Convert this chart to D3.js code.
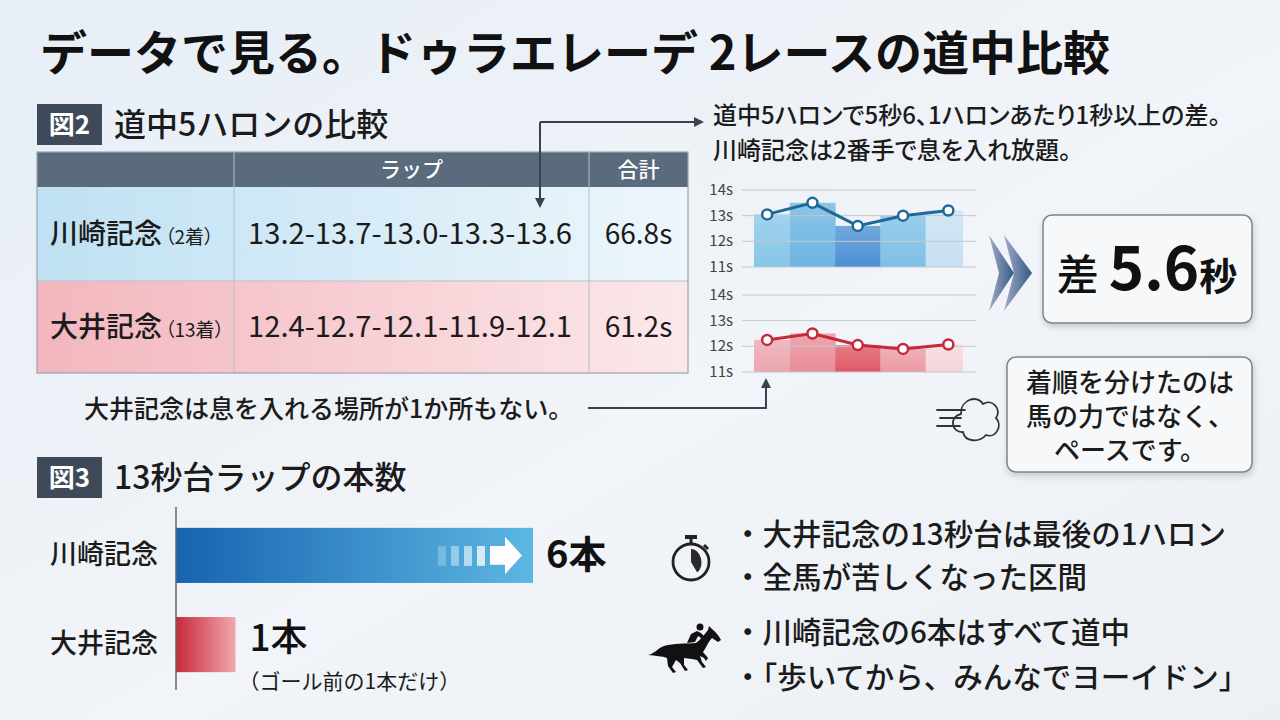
<!DOCTYPE html>
<html lang="ja">
<head>
<meta charset="UTF-8">
<title>ドゥラエレーデ 2レースの道中比較</title>
<script src="https://d3js.org/d3.v7.min.js"></script>
<style>
  body, html { margin: 0; padding: 0; }
  svg { display: block; font-family: "Noto Sans CJK JP", "Noto Sans", sans-serif; }
</style>
</head>
<body>
<div id="chart"></div>
<script>
// ---- data ----
const races = ["川崎記念", "大井記念"];
const finishes = ["2着", "13着"];
const kawasakiLaps = [13.2, 13.7, 13.0, 13.3, 13.6];
const ooiLaps = [12.4, 12.7, 12.1, 11.9, 12.1];
const totals = ["66.8s", "61.2s"];
const tableHeaders = ["", "ラップ", "合計"];

// mini line chart (values as plotted in the picture)
const chartTicks = [11, 12, 13, 14];
const kawasakiPlot = [13.05, 13.5, 12.6, 13.0, 13.2];
const ooiPlot = [12.25, 12.5, 12.05, 11.9, 12.07];

// 13秒台ラップの本数
const count13 = [6, 1];
const countUnit = "本";

const title = "データで見る。ドゥラエレーデ 2レースの道中比較";
const fig2Title = "道中5ハロンの比較";
const fig3Title = "13秒台ラップの本数";
const noteTop = ["道中5ハロンで5秒6、1ハロンあたり1秒以上の差。", "川崎記念は2番手で息を入れ放題。"];
const noteBottom = "大井記念は息を入れる場所が1か所もない。";
const diffLabel = ["差", "5.6", "秒"];
const conclusion = ["着順を分けたのは", "馬の力ではなく、", "ペースです。"];
const bulletsA = ["・大井記念の13秒台は最後の1ハロン", "・全馬が苦しくなった区間"];
const bulletsB = ["・川崎記念の6本はすべて道中", "・「歩いてから、みんなでヨーイドン」"];

const W = 1280, H = 720;
const ink = "#1b1b1b";
const slate = "#3e4a5a";

const svg = d3.select("#chart").append("svg")
  .attr("width", W).attr("height", H);

const defs = svg.append("defs");

function linGrad(id, stops, x2 = "100%", y2 = "0%") {
  const g = defs.append("linearGradient").attr("id", id)
    .attr("x1", "0%").attr("y1", "0%").attr("x2", x2).attr("y2", y2);
  stops.forEach(s => g.append("stop").attr("offset", s[0]).attr("stop-color", s[1]).attr("stop-opacity", s[2] == null ? 1 : s[2]));
}
linGrad("bg", [["0%", "#e7eef6"], ["55%", "#f1f4f8"], ["100%", "#eceff4"]], "100%", "100%");
linGrad("rowBlue", [["0%", "#bfe1f3"], ["100%", "#eef6fb"]]);
linGrad("rowRed", [["0%", "#f3b6be"], ["100%", "#fbe8ea"]]);
linGrad("barBlue", [["0%", "#1763b0"], ["100%", "#5cb7e2"]]);
linGrad("barRed", [["0%", "#c72a3b"], ["100%", "#f1a7af"]]);
linGrad("chev", [["0%", "#a7a9c8"], ["100%", "#2f5b82"]]);
linGrad("sheen", [["0%", "#ffffff", 0.22], ["100%", "#ffffff", 0]], "0%", "100%");

const shadow = defs.append("filter").attr("id", "shadow")
  .attr("x", "-10%").attr("y", "-10%").attr("width", "130%").attr("height", "140%");
shadow.append("feDropShadow").attr("dx", 1).attr("dy", 3).attr("stdDeviation", 3)
  .attr("flood-color", "#000").attr("flood-opacity", 0.18);

defs.append("marker").attr("id", "arrow").attr("viewBox", "0 0 10 10")
  .attr("refX", 8).attr("refY", 5).attr("markerWidth", 5).attr("markerHeight", 5)
  .attr("orient", "auto")
  .append("path").attr("d", "M0,0 L10,5 L0,10 Z").attr("fill", "#3a424d");

svg.append("rect").attr("width", W).attr("height", H).attr("fill", "url(#bg)");

// ---- title ----
svg.append("text").attr("x", 40).attr("y", 70)
  .attr("font-size", 47).attr("font-weight", 700).attr("fill", "#111")
  .text(title);

// section label helper
function sectionLabel(y, num, label) {
  svg.append("rect").attr("x", 37).attr("y", y).attr("width", 65).attr("height", 41).attr("fill", slate);
  svg.append("text").attr("x", 69.5).attr("y", y + 30).attr("text-anchor", "middle")
    .attr("font-size", 26).attr("font-weight", 700).attr("fill", "#fff").text(num);
  svg.append("text").attr("x", 114).attr("y", y + 32)
    .attr("font-size", 32).attr("font-weight", 500).attr("fill", ink).text(label);
}
sectionLabel(104, "図2", fig2Title);
sectionLabel(457, "図3", fig3Title);

// ---- table ----
const colX = [37, 234, 589, 688];
const rowY = [152, 187, 281, 373];
const tbl = svg.append("g");
tbl.append("rect").attr("x", colX[0]).attr("y", rowY[0]).attr("width", colX[3] - colX[0]).attr("height", rowY[1] - rowY[0]).attr("fill", "#5b6b7e");
tableHeaders.forEach((h, i) => {
  tbl.append("text").attr("x", (colX[i] + colX[i + 1]) / 2).attr("y", rowY[0] + 25)
    .attr("text-anchor", "middle").attr("font-size", 21).attr("font-weight", 500)
    .attr("fill", "#fff").text(h);
});
const lapRows = [kawasakiLaps, ooiLaps];
races.forEach((r, i) => {
  const y0 = rowY[i + 1], y1 = rowY[i + 2], cy = (y0 + y1) / 2 + 10;
  tbl.append("rect").attr("x", colX[0]).attr("y", y0).attr("width", colX[3] - colX[0]).attr("height", y1 - y0)
    .attr("fill", i === 0 ? "url(#rowBlue)" : "url(#rowRed)");
  const t = tbl.append("text").attr("x", 50).attr("y", cy).attr("fill", ink);
  t.append("tspan").attr("font-size", 28).attr("font-weight", 500).text(r);
  t.append("tspan").attr("font-size", 19).attr("dx", 3).style("font-feature-settings", "'palt'")
    .text("（" + finishes[i] + "）");
  tbl.append("text").attr("x", 248).attr("y", cy).attr("font-size", 29).attr("fill", ink)
    .attr("textLength", 324).attr("lengthAdjust", "spacingAndGlyphs")
    .text(lapRows[i].map(v => v.toFixed(1)).join("-"));
  tbl.append("text").attr("x", (colX[2] + colX[3]) / 2).attr("y", cy).attr("text-anchor", "middle")
    .attr("font-size", 28).attr("fill", ink).text(totals[i]);
});
// grid lines
[colX[1], colX[2]].forEach(x => tbl.append("line").attr("x1", x).attr("x2", x)
  .attr("y1", rowY[0]).attr("y2", rowY[3]).attr("stroke", "#b9c0c8").attr("stroke-width", 1));
tbl.append("line").attr("x1", colX[0]).attr("x2", colX[3]).attr("y1", rowY[2]).attr("y2", rowY[2])
  .attr("stroke", "#b9c0c8");
tbl.append("rect").attr("x", colX[0]).attr("y", rowY[0]).attr("width", colX[3] - colX[0]).attr("height", rowY[3] - rowY[0])
  .attr("fill", "none").attr("stroke", "#99a2ad").attr("stroke-width", 1.2);

// ---- connectors ----
svg.append("path").attr("d", "M540,122 L540,206").attr("stroke", "#3a424d").attr("stroke-width", 2)
  .attr("fill", "none").attr("marker-end", "url(#arrow)");
svg.append("path").attr("d", "M540,122 L702,122").attr("stroke", "#3a424d").attr("stroke-width", 2)
  .attr("fill", "none").attr("marker-end", "url(#arrow)");
svg.append("path").attr("d", "M588,408 L766,408 L766,380").attr("stroke", "#3a424d").attr("stroke-width", 2)
  .attr("fill", "none").attr("marker-end", "url(#arrow)");

noteTop.forEach((s, i) => {
  svg.append("text").attr("x", 713).attr("y", 124 + i * 35).attr("font-size", 24)
    .attr("font-weight", 500).style("font-feature-settings", "'palt'")
    .attr("fill", ink).text(s);
});
svg.append("text").attr("x", 84).attr("y", 418).attr("font-size", 25)
  .attr("font-weight", 500).attr("fill", ink).text(noteBottom);

// ---- mini line charts ----
const xb = d3.scaleBand().domain(d3.range(5)).range([744.5, 971]).padding(0);
defs.append("clipPath").attr("id", "barClip").append("rect")
  .attr("x", 754).attr("y", 150).attr("width", 209).attr("height", 240);

function miniChart(yTop, yBottom, values, barColors, lineColor) {
  const y = d3.scaleLinear().domain([11, 14]).range([yBottom, yTop]);
  const g = svg.append("g");
  const bg = g.append("g").attr("clip-path", "url(#barClip)");
  bg.selectAll("rect.b").data(values).join("rect").attr("class", "b")
    .attr("x", (d, i) => xb(i)).attr("width", xb.bandwidth() + 0.5)
    .attr("y", d => y(d)).attr("height", d => y(11) - y(d))
    .attr("fill", (d, i) => barColors[i]);
  bg.selectAll("rect.s").data(values).join("rect").attr("class", "s")
    .attr("x", (d, i) => xb(i)).attr("width", xb.bandwidth() + 0.5)
    .attr("y", d => y(d)).attr("height", d => y(11) - y(d))
    .attr("fill", "url(#sheen)");
  g.selectAll(".grid").data(chartTicks).join("line")
    .attr("x1", 742).attr("x2", 976).attr("y1", d => y(d)).attr("y2", d => y(d))
    .attr("stroke", "#c3c8cf").attr("stroke-width", 1);
  g.selectAll(".tl").data(chartTicks).join("text")
    .attr("x", 733).attr("y", d => y(d) + 5).attr("text-anchor", "end")
    .attr("font-size", 15).attr("fill", "#444").text(d => d + "s");
  const line = d3.line().x((d, i) => xb(i) + xb.bandwidth() / 2).y(d => y(d));
  g.append("path").datum(values).attr("d", line).attr("fill", "none")
    .attr("stroke", lineColor).attr("stroke-width", 3);
  g.selectAll("circle").data(values).join("circle")
    .attr("cx", (d, i) => xb(i) + xb.bandwidth() / 2).attr("cy", d => y(d)).attr("r", 5)
    .attr("fill", "#fff").attr("stroke", lineColor).attr("stroke-width", 2.5);
}
miniChart(190, 267, kawasakiPlot, ["#86c6e8", "#6db4e1", "#4a90d3", "#7ebfe6", "#c6e0f2"], "#1d6a9a");
miniChart(295, 372, ooiPlot, ["#eca5ad", "#e88d97", "#e05866", "#eb9aa3", "#f7d5d9"], "#c42a3a");

// ---- chevrons ----
svg.append("path").attr("d", "M989,235 L1014,273 L989,311 L999,273 Z").attr("fill", "url(#chev)");
svg.append("path").attr("d", "M1004,235 L1032,273 L1004,311 L1014,273 Z").attr("fill", "url(#chev)");

// ---- boxes ----
svg.append("rect").attr("x", 1043).attr("y", 215).attr("width", 209).attr("height", 108).attr("rx", 9)
  .attr("fill", "#f6f8fa").attr("stroke", "#7d848c").attr("stroke-width", 1.5).attr("filter", "url(#shadow)");
const dt = svg.append("text").attr("x", 1147).attr("y", 290).attr("text-anchor", "middle").attr("fill", "#111");
dt.append("tspan").attr("font-size", 42).attr("font-weight", 500).text(diffLabel[0]);
dt.append("tspan").attr("font-size", 60).attr("font-weight", 700).attr("dx", 10).text(diffLabel[1]);
dt.append("tspan").attr("font-size", 38).attr("font-weight", 700).text(diffLabel[2]);

svg.append("rect").attr("x", 1007).attr("y", 357).attr("width", 245).attr("height", 115).attr("rx", 9)
  .attr("fill", "#f6f8fa").attr("stroke", "#7d848c").attr("stroke-width", 1.5).attr("filter", "url(#shadow)");
conclusion.forEach((s, i) => {
  svg.append("text").attr("x", 1130).attr("y", 392 + i * 34).attr("text-anchor", "middle")
    .attr("font-size", 26).attr("font-weight", 500).attr("fill", ink).text(s);
});

// wind icon
const wind = svg.append("g").attr("fill", "none").attr("stroke", "#333").attr("stroke-width", 1.8).attr("stroke-linecap", "round");
wind.append("path").attr("d", "M963,432 C951,433 949,416 961,414 C960,400 977,394 983,404 C993,398 1002,410 996,418 C1003,425 996,439 986,435 C979,443 965,442 963,432 Z");
wind.append("path").attr("d", "M937,410 L965,410 M940,418 L961,418 M937,426 L960,426");

// ---- 13秒台 bar chart ----
const xc = d3.scaleLinear().domain([0, 6]).range([176, 533]);
const yc = d3.scaleBand().domain(races).range([510, 690]).paddingInner(0.382).paddingOuter(0.2);
const bars = svg.append("g");
bars.selectAll("rect.bar").data(count13).join("rect").attr("class", "bar")
  .attr("x", xc(0)).attr("y", (d, i) => yc(races[i]))
  .attr("width", d => xc(d) - xc(0)).attr("height", yc.bandwidth())
  .attr("fill", (d, i) => i === 0 ? "url(#barBlue)" : "url(#barRed)");

const yAxis = svg.append("g").attr("transform", `translate(${xc(0)},0)`)
  .call(d3.axisLeft(yc).tickSize(0).tickPadding(18));
yAxis.select(".domain").attr("d", "M0,507 L0,690").attr("stroke", "#666").attr("stroke-width", 1.5);
yAxis.selectAll("text").attr("font-size", 27).attr("font-weight", 500)
  .attr("font-family", "Noto Sans CJK JP").attr("fill", ink);

// arrow inside blue bar
const by = yc(races[0]), bh = yc.bandwidth();
const stripes = svg.append("g");
[0, 1, 2, 3].forEach(k => {
  stripes.append("rect").attr("x", 438 + k * 13).attr("y", by + bh * 0.33).attr("width", 8).attr("height", bh * 0.36)
    .attr("fill", "#fff").attr("opacity", 0.25 + k * 0.17);
});
stripes.append("path")
  .attr("d", `M490,${by + bh * 0.33} L505,${by + bh * 0.33} L505,${by + bh * 0.16} L522,${by + bh / 2} L505,${by + bh * 0.84} L505,${by + bh * 0.67} L490,${by + bh * 0.67} Z`)
  .attr("fill", "#fff");

// value labels
svg.append("text").attr("x", xc(count13[0]) + 13).attr("y", by + bh / 2 + 13)
  .attr("font-size", 38).attr("font-weight", 700).attr("fill", "#111").text(count13[0] + countUnit);
const by1 = yc(races[1]);
svg.append("text").attr("x", xc(count13[1]) + 14).attr("y", by1 + 34)
  .attr("font-size", 37).attr("font-weight", 500).attr("fill", "#111").text(count13[1] + countUnit);
svg.append("text").attr("x", xc(count13[1]) + 3).attr("y", by1 + 72)
  .attr("font-size", 21).attr("fill", ink).text("（ゴール前の1本だけ）");

// ---- bullets ----
bulletsA.forEach((s, i) => svg.append("text").attr("x", 733).attr("y", 545 + i * 43)
  .attr("font-size", 29.5).attr("font-weight", 500).attr("fill", ink).text(s));
bulletsB.forEach((s, i) => svg.append("text").attr("x", 733).attr("y", 643 + i * 45)
  .attr("font-size", 29.5).attr("font-weight", 500).attr("fill", ink).text(s));

// stopwatch icon
const sw = svg.append("g").attr("transform", "translate(691,562)");
sw.append("circle").attr("r", 18).attr("fill", "none").attr("stroke", "#222").attr("stroke-width", 2.8);
sw.append("rect").attr("x", -6).attr("y", -27).attr("width", 12).attr("height", 4).attr("fill", "#222");
sw.append("rect").attr("x", -1.5).attr("y", -24).attr("width", 3).attr("height", 6).attr("fill", "#222");
sw.append("path").attr("d", "M13,-17 L17,-13").attr("stroke", "#222").attr("stroke-width", 3);
sw.append("path").attr("d", d3.arc().innerRadius(0).outerRadius(13).startAngle(0).endAngle(2.5)()).attr("fill", "#2a2a2a")
  .attr("transform", "scale(0.8,1)");

// horse icon
const horse = svg.append("g").attr("transform", "translate(640,610)").attr("fill", "#111");
horse.append("path").attr("d",
  "M8,45 C14,44 18,38 24,36 C34,33 46,34 56,33 C60,30 64,25 68,20 L69,16 L72,19 " +
  "C76,22 79,26 81,30 L78,32 L72,28 C68,32 66,38 63,42 L68,48 L66,51 L64,48 L60,46 " +
  "L62,52 L66,57 L63,58 L57,50 L52,49 L44,48 L44,55 L48,60 L45,61 L40,53 L36,50 " +
  "L32,57 L36,62 L33,63 L28,56 L27,48 C22,46 16,46 8,45 Z");
horse.append("circle").attr("cx", 60).attr("cy", 17).attr("r", 3.5);
horse.append("path").attr("d", "M47,33 L51,24 L57,21 L61,23 L66,28 L64,30 L58,26 L55,32 Z");
</script>
</body>
</html>
